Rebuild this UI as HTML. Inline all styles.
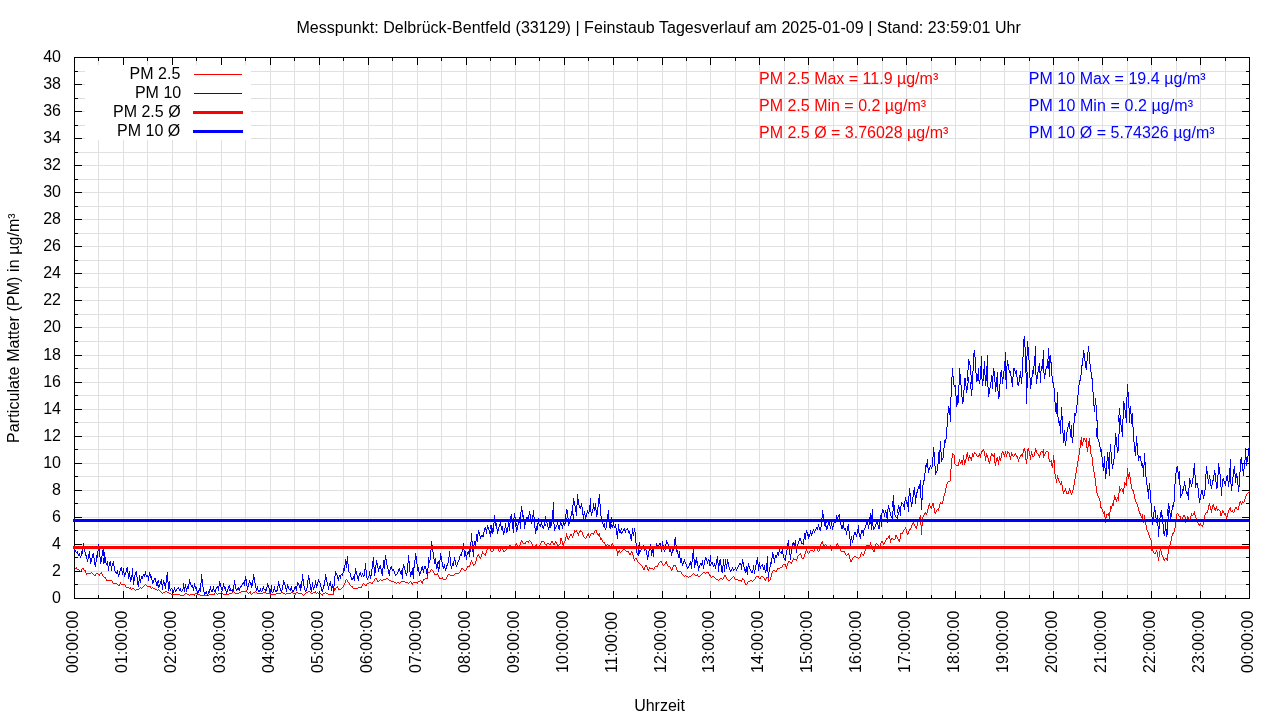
<!DOCTYPE html>
<html><head><meta charset="utf-8"><title>Feinstaub Tagesverlauf</title>
<style>html,body{margin:0;padding:0;background:#fff;width:1280px;height:720px;overflow:hidden}
text{font-family:"Liberation Sans",sans-serif}</style></head>
<body>
<svg width="1280" height="720" viewBox="0 0 1280 720" style="position:absolute;left:0;top:0;will-change:transform">
<rect width="1280" height="720" fill="#fff"/>
<path d="M98.5 57V599M123.5 57V599M147.5 57V599M172.5 57V599M196.5 57V599M221.5 57V599M245.5 57V599M270.5 57V599M294.5 57V599M319.5 57V599M343.5 57V599M368.5 57V599M392.5 57V599M417.5 57V599M441.5 57V599M466.5 57V599M490.5 57V599M515.5 57V599M539.5 57V599M564.5 57V599M588.5 57V599M613.5 57V599M637.5 57V599M662.5 57V599M686.5 57V599M710.5 57V599M735.5 57V599M759.5 57V599M784.5 57V599M808.5 57V599M833.5 57V599M857.5 57V599M882.5 57V599M906.5 57V599M931.5 57V599M955.5 57V599M980.5 57V599M1004.5 57V599M1029.5 57V599M1053.5 57V599M1078.5 57V599M1102.5 57V599M1127.5 57V599M1151.5 57V599M1176.5 57V599M1200.5 57V599M1225.5 57V599M74 584.5H1250M74 571.5H1250M74 557.5H1250M74 544.5H1250M74 530.5H1250M74 517.5H1250M74 503.5H1250M74 490.5H1250M74 476.5H1250M74 463.5H1250M74 449.5H1250M74 436.5H1250M74 422.5H1250M74 409.5H1250M74 395.5H1250M74 382.5H1250M74 368.5H1250M74 355.5H1250M74 341.5H1250M74 327.5H1250M74 314.5H1250M74 300.5H1250M74 287.5H1250M74 273.5H1250M74 260.5H1250M74 246.5H1250M74 233.5H1250M74 219.5H1250M74 206.5H1250M74 192.5H1250M74 179.5H1250M74 165.5H1250M74 152.5H1250M74 138.5H1250M74 125.5H1250M74 111.5H1250M74 98.5H1250M74 84.5H1250M74 71.5H1250" stroke="#e0e0e0" stroke-width="1" fill="none" shape-rendering="crispEdges"/>
<path d="M74.5 599v-8M74.5 57v8M98.5 599v-4M98.5 57v4M123.5 599v-8M123.5 57v8M147.5 599v-4M147.5 57v4M172.5 599v-8M172.5 57v8M196.5 599v-4M196.5 57v4M221.5 599v-8M221.5 57v8M245.5 599v-4M245.5 57v4M270.5 599v-8M270.5 57v8M294.5 599v-4M294.5 57v4M319.5 599v-8M319.5 57v8M343.5 599v-4M343.5 57v4M368.5 599v-8M368.5 57v8M392.5 599v-4M392.5 57v4M417.5 599v-8M417.5 57v8M441.5 599v-4M441.5 57v4M466.5 599v-8M466.5 57v8M490.5 599v-4M490.5 57v4M515.5 599v-8M515.5 57v8M539.5 599v-4M539.5 57v4M564.5 599v-8M564.5 57v8M588.5 599v-4M588.5 57v4M613.5 599v-8M613.5 57v8M637.5 599v-4M637.5 57v4M662.5 599v-8M662.5 57v8M686.5 599v-4M686.5 57v4M710.5 599v-8M710.5 57v8M735.5 599v-4M735.5 57v4M759.5 599v-8M759.5 57v8M784.5 599v-4M784.5 57v4M808.5 599v-8M808.5 57v8M833.5 599v-4M833.5 57v4M857.5 599v-8M857.5 57v8M882.5 599v-4M882.5 57v4M906.5 599v-8M906.5 57v8M931.5 599v-4M931.5 57v4M955.5 599v-8M955.5 57v8M980.5 599v-4M980.5 57v4M1004.5 599v-8M1004.5 57v8M1029.5 599v-4M1029.5 57v4M1053.5 599v-8M1053.5 57v8M1078.5 599v-4M1078.5 57v4M1102.5 599v-8M1102.5 57v8M1127.5 599v-4M1127.5 57v4M1151.5 599v-8M1151.5 57v8M1176.5 599v-4M1176.5 57v4M1200.5 599v-8M1200.5 57v8M1225.5 599v-4M1225.5 57v4M1249.5 599v-8M1249.5 57v8M74 598.5h8M1250 598.5h-8M74 584.5h4M1250 584.5h-4M74 571.5h8M1250 571.5h-8M74 557.5h4M1250 557.5h-4M74 544.5h8M1250 544.5h-8M74 530.5h4M1250 530.5h-4M74 517.5h8M1250 517.5h-8M74 503.5h4M1250 503.5h-4M74 490.5h8M1250 490.5h-8M74 476.5h4M1250 476.5h-4M74 463.5h8M1250 463.5h-8M74 449.5h4M1250 449.5h-4M74 436.5h8M1250 436.5h-8M74 422.5h4M1250 422.5h-4M74 409.5h8M1250 409.5h-8M74 395.5h4M1250 395.5h-4M74 382.5h8M1250 382.5h-8M74 368.5h4M1250 368.5h-4M74 355.5h8M1250 355.5h-8M74 341.5h4M1250 341.5h-4M74 327.5h8M1250 327.5h-8M74 314.5h4M1250 314.5h-4M74 300.5h8M1250 300.5h-8M74 287.5h4M1250 287.5h-4M74 273.5h8M1250 273.5h-8M74 260.5h4M1250 260.5h-4M74 246.5h8M1250 246.5h-8M74 233.5h4M1250 233.5h-4M74 219.5h8M1250 219.5h-8M74 206.5h4M1250 206.5h-4M74 192.5h8M1250 192.5h-8M74 179.5h4M1250 179.5h-4M74 165.5h8M1250 165.5h-8M74 152.5h4M1250 152.5h-4M74 138.5h8M1250 138.5h-8M74 125.5h4M1250 125.5h-4M74 111.5h8M1250 111.5h-8M74 98.5h4M1250 98.5h-4M74 84.5h8M1250 84.5h-8M74 71.5h4M1250 71.5h-4M74 57.5h8M1250 57.5h-8" stroke="#000" stroke-width="1" fill="none" shape-rendering="crispEdges"/>
<rect x="74.5" y="57.5" width="1175" height="541" fill="none" stroke="#000" stroke-width="1" shape-rendering="crispEdges"/>
<rect x="85" y="65" width="166" height="75" fill="#fff"/>
<path fill="#ff0000" shape-rendering="crispEdges" d="M75 568h1v1h-1zM76 567h1v2h-1zM77 569h1v1h-1zM78 569h1v1h-1zM79 570h1v1h-1zM80 571h1v1h-1zM81 569h1v2h-1zM82 568h1v1h-1zM83 568h1v2h-1zM84 570h1v1h-1zM85 570h1v3h-1zM86 573h1v2h-1zM87 573h1v1h-1zM88 573h1v1h-1zM89 573h1v1h-1zM90 573h1v1h-1zM91 572h1v1h-1zM92 573h1v1h-1zM93 574h1v1h-1zM94 575h1v1h-1zM95 574h1v2h-1zM96 573h1v1h-1zM97 573h1v1h-1zM98 574h1v1h-1zM99 574h1v2h-1zM100 573h1v1h-1zM101 572h1v2h-1zM102 574h1v2h-1zM103 576h1v1h-1zM104 577h1v1h-1zM105 577h1v2h-1zM106 579h1v2h-1zM107 580h1v1h-1zM108 580h1v1h-1zM109 580h1v1h-1zM110 580h1v1h-1zM111 580h1v1h-1zM112 581h1v2h-1zM113 583h1v1h-1zM114 583h1v1h-1zM115 583h1v1h-1zM116 583h1v1h-1zM117 584h1v1h-1zM118 585h1v1h-1zM119 584h1v2h-1zM120 582h1v2h-1zM121 584h1v1h-1zM122 584h1v1h-1zM123 584h1v1h-1zM124 584h1v1h-1zM125 585h1v2h-1zM126 587h1v1h-1zM127 587h1v1h-1zM128 587h1v1h-1zM129 588h1v1h-1zM130 587h1v2h-1zM131 589h1v1h-1zM132 588h1v1h-1zM133 588h1v1h-1zM134 589h1v1h-1zM135 590h1v1h-1zM136 589h1v1h-1zM137 589h1v1h-1zM138 589h1v1h-1zM139 588h1v1h-1zM140 587h1v1h-1zM141 588h1v1h-1zM142 587h1v1h-1zM143 586h1v1h-1zM144 585h1v1h-1zM145 584h1v1h-1zM146 585h1v1h-1zM147 586h1v1h-1zM148 586h1v1h-1zM149 586h1v1h-1zM150 586h1v2h-1zM151 588h1v1h-1zM152 587h1v1h-1zM153 588h1v1h-1zM154 588h1v1h-1zM155 589h1v1h-1zM156 589h1v1h-1zM157 590h1v1h-1zM158 589h1v1h-1zM159 590h1v1h-1zM160 591h1v1h-1zM161 592h1v1h-1zM162 593h1v1h-1zM163 592h1v1h-1zM164 592h1v1h-1zM165 591h1v1h-1zM166 591h1v1h-1zM167 592h1v1h-1zM168 592h1v1h-1zM169 593h1v1h-1zM170 593h1v1h-1zM171 594h1v1h-1zM172 594h1v1h-1zM173 594h1v1h-1zM174 594h1v1h-1zM175 594h1v1h-1zM176 594h1v1h-1zM177 594h1v1h-1zM178 594h1v1h-1zM179 594h1v1h-1zM180 595h1v1h-1zM181 595h1v1h-1zM182 595h1v1h-1zM183 595h1v1h-1zM184 594h1v1h-1zM185 593h1v1h-1zM186 593h1v1h-1zM187 594h1v1h-1zM188 594h1v1h-1zM189 595h1v1h-1zM190 594h1v1h-1zM191 594h1v1h-1zM192 594h1v1h-1zM193 594h1v1h-1zM194 594h1v2h-1zM195 593h1v1h-1zM196 593h1v1h-1zM197 594h1v1h-1zM198 594h1v1h-1zM199 594h1v1h-1zM200 595h1v1h-1zM201 595h1v1h-1zM202 595h1v1h-1zM203 595h1v1h-1zM204 595h1v1h-1zM205 595h1v1h-1zM206 595h1v1h-1zM207 595h1v1h-1zM208 595h1v1h-1zM209 594h1v1h-1zM210 594h1v1h-1zM211 594h1v1h-1zM212 594h1v1h-1zM213 594h1v1h-1zM214 593h1v2h-1zM215 592h1v1h-1zM216 593h1v1h-1zM217 594h1v1h-1zM218 593h1v1h-1zM219 593h1v1h-1zM220 593h1v1h-1zM221 592h1v1h-1zM222 593h1v1h-1zM223 594h1v1h-1zM224 594h1v1h-1zM225 594h1v1h-1zM226 594h1v1h-1zM227 594h1v1h-1zM228 594h1v1h-1zM229 593h1v1h-1zM230 593h1v1h-1zM231 593h1v1h-1zM232 592h1v1h-1zM233 591h1v1h-1zM234 592h1v1h-1zM235 593h1v1h-1zM236 593h1v1h-1zM237 593h1v1h-1zM238 593h1v1h-1zM239 592h1v1h-1zM240 592h1v1h-1zM241 591h1v1h-1zM242 591h1v1h-1zM243 591h1v1h-1zM244 591h1v1h-1zM245 591h1v1h-1zM246 590h1v2h-1zM247 592h1v1h-1zM248 593h1v1h-1zM249 592h1v1h-1zM250 591h1v3h-1zM251 594h1v1h-1zM252 593h1v1h-1zM253 592h1v1h-1zM254 592h1v1h-1zM255 591h1v1h-1zM256 592h1v1h-1zM257 593h1v1h-1zM258 593h1v1h-1zM259 593h1v1h-1zM260 593h1v1h-1zM261 593h1v1h-1zM262 593h1v1h-1zM263 592h1v1h-1zM264 592h1v1h-1zM265 591h1v2h-1zM266 593h1v1h-1zM267 593h1v1h-1zM268 593h1v1h-1zM269 592h1v2h-1zM270 594h1v1h-1zM271 594h1v1h-1zM272 594h1v1h-1zM273 594h1v1h-1zM274 594h1v1h-1zM275 594h1v1h-1zM276 593h1v1h-1zM277 593h1v1h-1zM278 593h1v1h-1zM279 593h1v1h-1zM280 593h1v1h-1zM281 592h1v1h-1zM282 592h1v1h-1zM283 593h1v1h-1zM284 593h1v1h-1zM285 594h1v1h-1zM286 593h1v1h-1zM287 593h1v1h-1zM288 593h1v1h-1zM289 593h1v1h-1zM290 593h1v1h-1zM291 592h1v1h-1zM292 592h1v1h-1zM293 593h1v1h-1zM294 593h1v1h-1zM295 593h1v2h-1zM296 592h1v1h-1zM297 592h1v1h-1zM298 593h1v1h-1zM299 593h1v1h-1zM300 593h1v1h-1zM301 593h1v1h-1zM302 594h1v1h-1zM303 595h1v1h-1zM304 594h1v1h-1zM305 593h1v1h-1zM306 592h1v1h-1zM307 592h1v1h-1zM308 591h1v1h-1zM309 591h1v1h-1zM310 592h1v1h-1zM311 593h1v1h-1zM312 593h1v1h-1zM313 592h1v1h-1zM314 592h1v1h-1zM315 591h1v2h-1zM316 593h1v1h-1zM317 592h1v1h-1zM318 593h1v1h-1zM319 593h1v1h-1zM320 593h1v1h-1zM321 594h1v1h-1zM322 594h1v2h-1zM323 593h1v1h-1zM324 593h1v1h-1zM325 592h1v1h-1zM326 593h1v1h-1zM327 593h1v1h-1zM328 594h1v1h-1zM329 594h1v1h-1zM330 594h1v1h-1zM331 594h1v1h-1zM332 594h1v1h-1zM333 591h1v4h-1zM334 588h1v3h-1zM335 588h1v2h-1zM336 587h1v1h-1zM337 586h1v2h-1zM338 588h1v2h-1zM339 589h1v1h-1zM340 589h1v1h-1zM341 588h1v1h-1zM342 587h1v1h-1zM343 585h1v2h-1zM344 583h1v2h-1zM345 580h1v3h-1zM346 579h1v1h-1zM347 580h1v2h-1zM348 582h1v1h-1zM349 583h1v2h-1zM350 585h1v1h-1zM351 586h1v1h-1zM352 586h1v2h-1zM353 588h1v1h-1zM354 588h1v1h-1zM355 588h1v1h-1zM356 588h1v1h-1zM357 588h1v1h-1zM358 587h1v1h-1zM359 587h1v1h-1zM360 587h1v1h-1zM361 586h1v2h-1zM362 584h1v2h-1zM363 583h1v1h-1zM364 584h1v1h-1zM365 585h1v1h-1zM366 584h1v2h-1zM367 583h1v1h-1zM368 583h1v1h-1zM369 582h1v1h-1zM370 582h1v1h-1zM371 583h1v1h-1zM372 582h1v2h-1zM373 581h1v1h-1zM374 579h1v2h-1zM375 578h1v1h-1zM376 578h1v2h-1zM377 580h1v2h-1zM378 581h1v1h-1zM379 580h1v1h-1zM380 579h1v1h-1zM381 580h1v1h-1zM382 580h1v1h-1zM383 579h1v1h-1zM384 579h1v1h-1zM385 579h1v1h-1zM386 578h1v1h-1zM387 578h1v1h-1zM388 579h1v1h-1zM389 580h1v1h-1zM390 580h1v1h-1zM391 581h1v1h-1zM392 581h1v1h-1zM393 581h1v1h-1zM394 582h1v1h-1zM395 582h1v1h-1zM396 583h1v1h-1zM397 582h1v1h-1zM398 582h1v1h-1zM399 583h1v1h-1zM400 582h1v1h-1zM401 581h1v1h-1zM402 581h1v1h-1zM403 581h1v1h-1zM404 581h1v1h-1zM405 582h1v1h-1zM406 582h1v1h-1zM407 582h1v1h-1zM408 583h1v1h-1zM409 582h1v1h-1zM410 581h1v1h-1zM411 582h1v2h-1zM412 583h1v2h-1zM413 582h1v1h-1zM414 582h1v1h-1zM415 582h1v1h-1zM416 582h1v1h-1zM417 582h1v2h-1zM418 581h1v1h-1zM419 581h1v1h-1zM420 580h1v1h-1zM421 581h1v2h-1zM422 581h1v3h-1zM423 579h1v2h-1zM424 579h1v1h-1zM425 578h1v1h-1zM426 578h1v1h-1zM427 572h1v7h-1zM428 572h1v1h-1zM429 572h1v1h-1zM430 570h1v2h-1zM431 569h1v1h-1zM432 570h1v1h-1zM433 571h1v2h-1zM434 573h1v2h-1zM435 574h1v1h-1zM436 574h1v1h-1zM437 573h1v2h-1zM438 575h1v2h-1zM439 577h1v2h-1zM440 578h1v1h-1zM441 578h1v1h-1zM442 577h1v2h-1zM443 579h1v1h-1zM444 579h1v1h-1zM445 579h1v1h-1zM446 577h1v2h-1zM447 575h1v2h-1zM448 574h1v1h-1zM449 574h1v1h-1zM450 575h1v1h-1zM451 575h1v1h-1zM452 575h1v1h-1zM453 575h1v1h-1zM454 574h1v1h-1zM455 573h1v1h-1zM456 573h1v1h-1zM457 573h1v1h-1zM458 573h1v1h-1zM459 572h1v1h-1zM460 570h1v2h-1zM461 568h1v2h-1zM462 568h1v1h-1zM463 569h1v1h-1zM464 570h1v1h-1zM465 570h1v1h-1zM466 568h1v2h-1zM467 566h1v2h-1zM468 566h1v1h-1zM469 565h1v2h-1zM470 562h1v3h-1zM471 560h1v2h-1zM472 562h1v2h-1zM473 564h1v2h-1zM474 564h1v1h-1zM475 561h1v3h-1zM476 557h1v4h-1zM477 555h1v2h-1zM478 554h1v2h-1zM479 556h1v2h-1zM480 557h1v2h-1zM481 554h1v3h-1zM482 551h1v3h-1zM483 553h1v1h-1zM484 554h1v1h-1zM485 553h1v3h-1zM486 550h1v3h-1zM487 548h1v2h-1zM488 547h1v1h-1zM489 548h1v1h-1zM490 549h1v2h-1zM491 551h1v1h-1zM492 551h1v1h-1zM493 549h1v2h-1zM494 547h1v2h-1zM495 546h1v1h-1zM496 547h1v1h-1zM497 548h1v1h-1zM498 549h1v2h-1zM499 551h1v1h-1zM500 549h1v2h-1zM501 548h1v1h-1zM502 548h1v2h-1zM503 550h1v2h-1zM504 551h1v1h-1zM505 550h1v1h-1zM506 548h1v2h-1zM507 547h1v1h-1zM508 546h1v1h-1zM509 545h1v1h-1zM510 545h1v1h-1zM511 546h1v1h-1zM512 546h1v1h-1zM513 547h1v1h-1zM514 546h1v1h-1zM515 544h1v2h-1zM516 543h1v2h-1zM517 545h1v2h-1zM518 546h1v1h-1zM519 545h1v2h-1zM520 542h1v3h-1zM521 540h1v2h-1zM522 541h1v2h-1zM523 543h1v1h-1zM524 543h1v1h-1zM525 542h1v2h-1zM526 541h1v1h-1zM527 541h1v1h-1zM528 541h1v2h-1zM529 540h1v1h-1zM530 541h1v1h-1zM531 542h1v2h-1zM532 544h1v2h-1zM533 546h1v1h-1zM534 546h1v1h-1zM535 545h1v1h-1zM536 544h1v2h-1zM537 546h1v1h-1zM538 546h1v1h-1zM539 545h1v1h-1zM540 543h1v2h-1zM541 541h1v2h-1zM542 541h1v1h-1zM543 541h1v1h-1zM544 542h1v2h-1zM545 544h1v1h-1zM546 544h1v2h-1zM547 543h1v1h-1zM548 543h1v1h-1zM549 544h1v1h-1zM550 543h1v2h-1zM551 541h1v2h-1zM552 541h1v2h-1zM553 543h1v2h-1zM554 543h1v2h-1zM555 541h1v2h-1zM556 542h1v2h-1zM557 544h1v2h-1zM558 545h1v1h-1zM559 544h1v1h-1zM560 538h1v6h-1zM561 538h1v3h-1zM562 541h1v4h-1zM563 543h1v3h-1zM564 541h1v2h-1zM565 537h1v4h-1zM566 533h1v4h-1zM567 536h1v3h-1zM568 538h1v2h-1zM569 536h1v2h-1zM570 534h1v2h-1zM571 534h1v2h-1zM572 536h1v2h-1zM573 533h1v3h-1zM574 530h1v3h-1zM575 531h1v1h-1zM576 530h1v2h-1zM577 532h1v2h-1zM578 533h1v3h-1zM579 531h1v2h-1zM580 530h1v2h-1zM581 531h1v1h-1zM582 532h1v3h-1zM583 535h1v2h-1zM584 537h1v1h-1zM585 538h1v1h-1zM586 536h1v2h-1zM587 534h1v2h-1zM588 533h1v3h-1zM589 536h1v2h-1zM590 534h1v2h-1zM591 533h1v1h-1zM592 533h1v1h-1zM593 533h1v2h-1zM594 531h1v2h-1zM595 530h1v1h-1zM596 530h1v3h-1zM597 533h1v2h-1zM598 534h1v2h-1zM599 533h1v4h-1zM600 537h1v3h-1zM601 538h1v2h-1zM602 540h1v2h-1zM603 542h1v1h-1zM604 542h1v2h-1zM605 544h1v2h-1zM606 545h1v1h-1zM607 544h1v1h-1zM608 545h1v1h-1zM609 545h1v1h-1zM610 546h1v1h-1zM611 544h1v2h-1zM612 543h1v2h-1zM613 545h1v1h-1zM614 546h1v1h-1zM615 547h1v1h-1zM616 546h1v5h-1zM617 551h1v5h-1zM618 551h1v2h-1zM619 550h1v2h-1zM620 552h1v1h-1zM621 551h1v1h-1zM622 550h1v1h-1zM623 549h1v1h-1zM624 549h1v1h-1zM625 550h1v1h-1zM626 551h1v1h-1zM627 551h1v1h-1zM628 551h1v2h-1zM629 553h1v2h-1zM630 553h1v2h-1zM631 551h1v2h-1zM632 552h1v3h-1zM633 555h1v4h-1zM634 559h1v2h-1zM635 558h1v1h-1zM636 558h1v2h-1zM637 560h1v2h-1zM638 562h1v1h-1zM639 563h1v1h-1zM640 564h1v1h-1zM641 565h1v1h-1zM642 566h1v2h-1zM643 568h1v2h-1zM644 567h1v3h-1zM645 565h1v2h-1zM646 565h1v2h-1zM647 567h1v3h-1zM648 569h1v2h-1zM649 567h1v2h-1zM650 568h1v1h-1zM651 568h1v1h-1zM652 568h1v1h-1zM653 569h1v1h-1zM654 567h1v2h-1zM655 566h1v1h-1zM656 566h1v1h-1zM657 565h1v2h-1zM658 563h1v2h-1zM659 562h1v1h-1zM660 561h1v1h-1zM661 561h1v2h-1zM662 563h1v2h-1zM663 565h1v1h-1zM664 564h1v1h-1zM665 562h1v2h-1zM666 561h1v3h-1zM667 564h1v2h-1zM668 566h1v1h-1zM669 566h1v1h-1zM670 567h1v2h-1zM671 569h1v2h-1zM672 567h1v3h-1zM673 565h1v2h-1zM674 565h1v1h-1zM675 565h1v2h-1zM676 567h1v3h-1zM677 570h1v2h-1zM678 571h1v1h-1zM679 571h1v1h-1zM680 571h1v1h-1zM681 572h1v2h-1zM682 574h1v1h-1zM683 575h1v1h-1zM684 576h1v1h-1zM685 575h1v1h-1zM686 576h1v1h-1zM687 576h1v1h-1zM688 577h1v1h-1zM689 576h1v1h-1zM690 576h1v1h-1zM691 575h1v1h-1zM692 574h1v1h-1zM693 573h1v1h-1zM694 574h1v1h-1zM695 575h1v1h-1zM696 575h1v1h-1zM697 574h1v2h-1zM698 576h1v1h-1zM699 576h1v1h-1zM700 575h1v1h-1zM701 574h1v1h-1zM702 573h1v1h-1zM703 572h1v1h-1zM704 572h1v1h-1zM705 573h1v1h-1zM706 572h1v1h-1zM707 572h1v1h-1zM708 572h1v2h-1zM709 574h1v2h-1zM710 575h1v2h-1zM711 577h1v1h-1zM712 576h1v1h-1zM713 576h1v1h-1zM714 577h1v1h-1zM715 578h1v1h-1zM716 579h1v1h-1zM717 579h1v1h-1zM718 580h1v1h-1zM719 579h1v1h-1zM720 578h1v1h-1zM721 578h1v1h-1zM722 579h1v1h-1zM723 577h1v2h-1zM724 575h1v2h-1zM725 575h1v2h-1zM726 577h1v2h-1zM727 579h1v1h-1zM728 580h1v1h-1zM729 580h1v1h-1zM730 579h1v1h-1zM731 578h1v1h-1zM732 577h1v1h-1zM733 576h1v1h-1zM734 577h1v2h-1zM735 579h1v1h-1zM736 579h1v1h-1zM737 579h1v1h-1zM738 580h1v1h-1zM739 580h1v1h-1zM740 580h1v1h-1zM741 580h1v2h-1zM742 578h1v2h-1zM743 579h1v1h-1zM744 580h1v3h-1zM745 583h1v2h-1zM746 584h1v1h-1zM747 582h1v2h-1zM748 581h1v1h-1zM749 581h1v1h-1zM750 580h1v1h-1zM751 580h1v1h-1zM752 581h1v1h-1zM753 580h1v1h-1zM754 579h1v1h-1zM755 577h1v2h-1zM756 576h1v1h-1zM757 576h1v1h-1zM758 576h1v2h-1zM759 578h1v1h-1zM760 577h1v2h-1zM761 576h1v1h-1zM762 576h1v1h-1zM763 577h1v1h-1zM764 578h1v2h-1zM765 579h1v2h-1zM766 577h1v2h-1zM767 577h1v1h-1zM768 576h1v6h-1zM769 580h1v1h-1zM770 577h1v3h-1zM771 573h1v4h-1zM772 571h1v2h-1zM773 570h1v1h-1zM774 570h1v1h-1zM775 571h1v1h-1zM776 570h1v2h-1zM777 568h1v2h-1zM778 568h1v1h-1zM779 568h1v1h-1zM780 567h1v1h-1zM781 567h1v1h-1zM782 565h1v2h-1zM783 564h1v1h-1zM784 564h1v1h-1zM785 564h1v3h-1zM786 566h1v3h-1zM787 563h1v3h-1zM788 561h1v2h-1zM789 561h1v1h-1zM790 562h1v1h-1zM791 562h1v2h-1zM792 560h1v2h-1zM793 558h1v2h-1zM794 559h1v1h-1zM795 559h1v1h-1zM796 559h1v2h-1zM797 556h1v3h-1zM798 555h1v1h-1zM799 554h1v1h-1zM800 553h1v2h-1zM801 555h1v3h-1zM802 558h1v1h-1zM803 557h1v2h-1zM804 554h1v3h-1zM805 551h1v3h-1zM806 549h1v2h-1zM807 551h1v2h-1zM808 553h1v1h-1zM809 551h1v2h-1zM810 550h1v1h-1zM811 550h1v1h-1zM812 550h1v1h-1zM813 551h1v1h-1zM814 549h1v2h-1zM815 548h1v1h-1zM816 548h1v1h-1zM817 549h1v2h-1zM818 551h1v1h-1zM819 548h1v3h-1zM820 544h1v4h-1zM821 542h1v2h-1zM822 541h1v3h-1zM823 544h1v2h-1zM824 545h1v1h-1zM825 544h1v1h-1zM826 545h1v1h-1zM827 546h1v2h-1zM828 548h1v1h-1zM829 546h1v2h-1zM830 545h1v3h-1zM831 548h1v3h-1zM832 547h1v2h-1zM833 546h1v1h-1zM834 546h1v1h-1zM835 546h1v1h-1zM836 544h1v2h-1zM837 543h1v2h-1zM838 545h1v2h-1zM839 547h1v2h-1zM840 549h1v2h-1zM841 551h1v1h-1zM842 551h1v1h-1zM843 551h1v1h-1zM844 551h1v2h-1zM845 553h1v2h-1zM846 555h1v1h-1zM847 554h1v1h-1zM848 553h1v2h-1zM849 555h1v4h-1zM850 559h1v3h-1zM851 560h1v2h-1zM852 558h1v2h-1zM853 557h1v1h-1zM854 556h1v1h-1zM855 556h1v1h-1zM856 557h1v1h-1zM857 557h1v1h-1zM858 558h1v1h-1zM859 557h1v1h-1zM860 554h1v3h-1zM861 552h1v2h-1zM862 554h1v1h-1zM863 554h1v2h-1zM864 551h1v3h-1zM865 547h1v4h-1zM866 545h1v2h-1zM867 545h1v1h-1zM868 545h1v1h-1zM869 545h1v2h-1zM870 542h1v3h-1zM871 545h1v3h-1zM872 548h1v2h-1zM873 550h1v2h-1zM874 548h1v4h-1zM875 544h1v4h-1zM876 543h1v1h-1zM877 544h1v1h-1zM878 545h1v1h-1zM879 546h1v1h-1zM880 543h1v3h-1zM881 541h1v2h-1zM882 541h1v2h-1zM883 543h1v2h-1zM884 542h1v2h-1zM885 540h1v2h-1zM886 538h1v2h-1zM887 538h1v1h-1zM888 536h1v2h-1zM889 535h1v4h-1zM890 539h1v4h-1zM891 538h1v2h-1zM892 538h1v1h-1zM893 539h1v1h-1zM894 539h1v1h-1zM895 535h1v4h-1zM896 535h1v2h-1zM897 537h1v2h-1zM898 539h1v2h-1zM899 539h1v3h-1zM900 533h1v6h-1zM901 533h1v1h-1zM902 532h1v2h-1zM903 530h1v2h-1zM904 529h1v1h-1zM905 527h1v2h-1zM906 529h1v4h-1zM907 533h1v2h-1zM908 531h1v3h-1zM909 529h1v2h-1zM910 528h1v2h-1zM911 525h1v3h-1zM912 523h1v2h-1zM913 522h1v2h-1zM914 524h1v2h-1zM915 526h1v2h-1zM916 526h1v3h-1zM917 522h1v4h-1zM918 520h1v2h-1zM919 517h1v3h-1zM920 515h1v10h-1zM921 525h1v10h-1zM922 517h1v9h-1zM923 515h1v2h-1zM924 513h1v2h-1zM925 512h1v2h-1zM926 513h1v2h-1zM927 509h1v4h-1zM928 505h1v4h-1zM929 503h1v3h-1zM930 506h1v2h-1zM931 506h1v3h-1zM932 503h1v3h-1zM933 503h1v5h-1zM934 508h1v5h-1zM935 512h1v2h-1zM936 510h1v2h-1zM937 509h1v1h-1zM938 508h1v3h-1zM939 504h1v4h-1zM940 502h1v2h-1zM941 503h1v1h-1zM942 501h1v3h-1zM943 496h1v5h-1zM944 493h1v3h-1zM945 488h1v5h-1zM946 484h1v4h-1zM947 482h1v2h-1zM948 481h1v1h-1zM949 481h1v1h-1zM950 469h1v12h-1zM951 458h1v11h-1zM952 453h1v5h-1zM953 454h1v1h-1zM954 455h1v9h-1zM955 464h1v1h-1zM956 465h1v1h-1zM957 465h1v1h-1zM958 462h1v4h-1zM959 459h1v3h-1zM960 462h1v2h-1zM961 460h1v3h-1zM962 460h1v5h-1zM963 455h1v5h-1zM964 460h1v5h-1zM965 459h1v4h-1zM966 454h1v5h-1zM967 452h1v5h-1zM968 457h1v4h-1zM969 455h1v3h-1zM970 457h1v2h-1zM971 457h1v4h-1zM972 453h1v4h-1zM973 454h1v3h-1zM974 452h1v2h-1zM975 453h1v1h-1zM976 454h1v2h-1zM977 456h1v1h-1zM978 455h1v2h-1zM979 453h1v3h-1zM980 454h1v4h-1zM981 451h1v3h-1zM982 450h1v2h-1zM983 449h1v2h-1zM984 451h1v5h-1zM985 456h1v5h-1zM986 453h1v4h-1zM987 455h1v3h-1zM988 458h1v4h-1zM989 461h1v3h-1zM990 456h1v5h-1zM991 453h1v3h-1zM992 454h1v2h-1zM993 455h1v2h-1zM994 453h1v10h-1zM995 462h1v4h-1zM996 458h1v4h-1zM997 457h1v4h-1zM998 460h1v5h-1zM999 456h1v4h-1zM1000 458h1v3h-1zM1001 453h1v5h-1zM1002 451h1v2h-1zM1003 452h1v3h-1zM1004 454h1v3h-1zM1005 451h1v3h-1zM1006 454h1v3h-1zM1007 451h1v3h-1zM1008 452h1v1h-1zM1009 453h1v4h-1zM1010 456h1v4h-1zM1011 452h1v4h-1zM1012 454h1v2h-1zM1013 456h1v1h-1zM1014 454h1v2h-1zM1015 453h1v2h-1zM1016 455h1v2h-1zM1017 456h1v3h-1zM1018 459h1v3h-1zM1019 457h1v2h-1zM1020 455h1v2h-1zM1021 454h1v2h-1zM1022 453h1v4h-1zM1023 449h1v4h-1zM1024 448h1v3h-1zM1025 451h1v9h-1zM1026 459h1v5h-1zM1027 449h1v10h-1zM1028 448h1v3h-1zM1029 451h1v5h-1zM1030 455h1v5h-1zM1031 451h1v4h-1zM1032 454h1v3h-1zM1033 456h1v1h-1zM1034 452h1v4h-1zM1035 448h1v4h-1zM1036 450h1v3h-1zM1037 453h1v1h-1zM1038 454h1v2h-1zM1039 455h1v3h-1zM1040 452h1v3h-1zM1041 451h1v1h-1zM1042 451h1v2h-1zM1043 449h1v9h-1zM1044 454h1v2h-1zM1045 452h1v2h-1zM1046 451h1v1h-1zM1047 451h1v1h-1zM1048 452h1v7h-1zM1049 459h1v3h-1zM1050 461h1v1h-1zM1051 460h1v6h-1zM1052 463h1v5h-1zM1053 455h1v8h-1zM1054 460h1v14h-1zM1055 474h1v5h-1zM1056 479h1v4h-1zM1057 475h1v4h-1zM1058 478h1v3h-1zM1059 481h1v2h-1zM1060 483h1v2h-1zM1061 481h1v4h-1zM1062 485h1v6h-1zM1063 491h1v3h-1zM1064 490h1v2h-1zM1065 488h1v3h-1zM1066 491h1v3h-1zM1067 493h1v1h-1zM1068 491h1v3h-1zM1069 488h1v3h-1zM1070 490h1v3h-1zM1071 493h1v2h-1zM1072 490h1v3h-1zM1073 485h1v5h-1zM1074 479h1v6h-1zM1075 473h1v6h-1zM1076 467h1v6h-1zM1077 461h1v6h-1zM1078 455h1v6h-1zM1079 448h1v7h-1zM1080 440h1v8h-1zM1081 437h1v8h-1zM1082 442h1v4h-1zM1083 438h1v4h-1zM1084 438h1v2h-1zM1085 440h1v2h-1zM1086 438h1v10h-1zM1087 447h1v5h-1zM1088 441h1v6h-1zM1089 438h1v8h-1zM1090 445h1v9h-1zM1091 454h1v3h-1zM1092 457h1v9h-1zM1093 466h1v6h-1zM1094 472h1v6h-1zM1095 478h1v8h-1zM1096 486h1v7h-1zM1097 493h1v3h-1zM1098 496h1v2h-1zM1099 498h1v3h-1zM1100 501h1v7h-1zM1101 507h1v2h-1zM1102 509h1v3h-1zM1103 512h1v2h-1zM1104 511h1v6h-1zM1105 517h1v6h-1zM1106 514h1v4h-1zM1107 514h1v1h-1zM1108 513h1v3h-1zM1109 512h1v7h-1zM1110 506h1v6h-1zM1111 506h1v3h-1zM1112 503h1v3h-1zM1113 500h1v6h-1zM1114 495h1v5h-1zM1115 497h1v3h-1zM1116 499h1v3h-1zM1117 497h1v2h-1zM1118 493h1v8h-1zM1119 486h1v7h-1zM1120 489h1v2h-1zM1121 488h1v1h-1zM1122 489h1v3h-1zM1123 488h1v6h-1zM1124 482h1v6h-1zM1125 483h1v2h-1zM1126 477h1v9h-1zM1127 468h1v9h-1zM1128 474h1v5h-1zM1129 472h1v5h-1zM1130 477h1v7h-1zM1131 484h1v5h-1zM1132 489h1v2h-1zM1133 490h1v4h-1zM1134 494h1v5h-1zM1135 499h1v3h-1zM1136 502h1v2h-1zM1137 504h1v3h-1zM1138 507h1v4h-1zM1139 511h1v3h-1zM1140 513h1v3h-1zM1141 516h1v2h-1zM1142 514h1v5h-1zM1143 519h1v4h-1zM1144 515h1v4h-1zM1145 519h1v6h-1zM1146 525h1v5h-1zM1147 530h1v2h-1zM1148 532h1v3h-1zM1149 535h1v3h-1zM1150 538h1v2h-1zM1151 540h1v11h-1zM1152 549h1v2h-1zM1153 551h1v2h-1zM1154 553h1v1h-1zM1155 552h1v2h-1zM1156 550h1v2h-1zM1157 552h1v5h-1zM1158 557h1v4h-1zM1159 551h1v6h-1zM1160 548h1v3h-1zM1161 551h1v4h-1zM1162 555h1v2h-1zM1163 557h1v3h-1zM1164 559h1v2h-1zM1165 558h1v1h-1zM1166 558h1v2h-1zM1167 554h1v7h-1zM1168 548h1v6h-1zM1169 545h1v3h-1zM1170 541h1v4h-1zM1171 536h1v5h-1zM1172 533h1v3h-1zM1173 532h1v2h-1zM1174 528h1v4h-1zM1175 519h1v9h-1zM1176 514h1v5h-1zM1177 513h1v1h-1zM1178 514h1v2h-1zM1179 516h1v1h-1zM1180 516h1v3h-1zM1181 519h1v3h-1zM1182 517h1v3h-1zM1183 515h1v2h-1zM1184 515h1v2h-1zM1185 517h1v6h-1zM1186 519h1v3h-1zM1187 516h1v3h-1zM1188 517h1v2h-1zM1189 519h1v1h-1zM1190 516h1v3h-1zM1191 513h1v3h-1zM1192 515h1v1h-1zM1193 513h1v2h-1zM1194 511h1v4h-1zM1195 515h1v3h-1zM1196 518h1v2h-1zM1197 520h1v3h-1zM1198 523h1v2h-1zM1199 524h1v2h-1zM1200 523h1v2h-1zM1201 525h1v1h-1zM1202 525h1v2h-1zM1203 520h1v5h-1zM1204 515h1v5h-1zM1205 513h1v2h-1zM1206 512h1v1h-1zM1207 510h1v3h-1zM1208 505h1v5h-1zM1209 503h1v3h-1zM1210 506h1v4h-1zM1211 509h1v4h-1zM1212 505h1v4h-1zM1213 504h1v3h-1zM1214 507h1v3h-1zM1215 508h1v3h-1zM1216 506h1v3h-1zM1217 509h1v2h-1zM1218 509h1v1h-1zM1219 510h1v1h-1zM1220 511h1v5h-1zM1221 513h1v3h-1zM1222 510h1v3h-1zM1223 511h1v2h-1zM1224 513h1v2h-1zM1225 513h1v3h-1zM1226 516h1v3h-1zM1227 513h1v4h-1zM1228 510h1v3h-1zM1229 508h1v2h-1zM1230 507h1v4h-1zM1231 511h1v1h-1zM1232 510h1v2h-1zM1233 512h1v1h-1zM1234 509h1v3h-1zM1235 507h1v2h-1zM1236 507h1v2h-1zM1237 509h1v1h-1zM1238 506h1v4h-1zM1239 502h1v4h-1zM1240 501h1v2h-1zM1241 503h1v2h-1zM1242 501h1v2h-1zM1243 502h1v1h-1zM1244 499h1v3h-1zM1245 496h1v3h-1zM1246 494h1v2h-1zM1247 493h1v1h-1zM1248 492h1v1h-1zM1249 491h1v1h-1z"/>
<path fill="#0000ff" shape-rendering="crispEdges" d="M74 549h1v2h-1zM75 550h1v2h-1zM76 552h1v1h-1zM77 551h1v3h-1zM78 554h1v2h-1zM79 553h1v3h-1zM80 556h1v2h-1zM81 551h1v5h-1zM82 548h1v6h-1zM83 543h1v5h-1zM84 546h1v6h-1zM85 552h1v4h-1zM86 555h1v4h-1zM87 559h1v3h-1zM88 554h1v5h-1zM89 551h1v7h-1zM90 558h1v6h-1zM91 558h1v4h-1zM92 554h1v4h-1zM93 553h1v5h-1zM94 558h1v7h-1zM95 562h1v5h-1zM96 555h1v7h-1zM97 551h1v7h-1zM98 544h1v7h-1zM99 548h1v9h-1zM100 557h1v7h-1zM101 556h1v6h-1zM102 550h1v6h-1zM103 549h1v7h-1zM103 558h1v6h-1zM104 552h1v11h-1zM105 557h1v6h-1zM106 563h1v2h-1zM107 561h1v5h-1zM108 566h1v5h-1zM109 562h1v4h-1zM110 561h1v5h-1zM111 566h1v5h-1zM112 563h1v3h-1zM113 561h1v5h-1zM114 566h1v5h-1zM115 571h1v2h-1zM116 572h1v2h-1zM117 570h1v4h-1zM118 574h1v3h-1zM119 571h1v4h-1zM120 568h1v3h-1zM121 567h1v4h-1zM122 571h1v4h-1zM123 568h1v5h-1zM124 573h1v4h-1zM125 572h1v3h-1zM126 568h1v4h-1zM127 567h1v6h-1zM128 573h1v6h-1zM129 571h1v6h-1zM130 577h1v5h-1zM131 575h1v5h-1zM132 568h1v9h-1zM133 577h1v8h-1zM134 575h1v6h-1zM135 572h1v3h-1zM136 571h1v6h-1zM137 577h1v8h-1zM138 581h1v6h-1zM139 575h1v6h-1zM140 579h1v4h-1zM141 576h1v3h-1zM142 576h1v3h-1zM143 574h1v2h-1zM144 574h1v3h-1zM145 571h1v4h-1zM146 575h1v2h-1zM147 575h1v2h-1zM148 576h1v5h-1zM149 572h1v4h-1zM150 574h1v4h-1zM151 576h1v4h-1zM152 580h1v4h-1zM153 580h1v3h-1zM154 578h1v2h-1zM155 578h1v4h-1zM156 582h1v4h-1zM157 581h1v5h-1zM158 580h1v3h-1zM158 585h1v3h-1zM159 584h1v3h-1zM160 581h1v3h-1zM161 579h1v6h-1zM162 584h1v6h-1zM163 580h1v4h-1zM164 582h1v4h-1zM165 583h1v6h-1zM166 575h1v8h-1zM167 572h1v10h-1zM168 582h1v9h-1zM169 581h1v8h-1zM170 589h1v2h-1zM171 588h1v1h-1zM172 589h1v2h-1zM173 590h1v3h-1zM174 587h1v3h-1zM175 590h1v2h-1zM176 589h1v2h-1zM177 588h1v1h-1zM178 587h1v2h-1zM179 589h1v2h-1zM180 588h1v3h-1zM181 591h1v1h-1zM182 589h1v2h-1zM183 583h1v6h-1zM184 587h1v5h-1zM185 584h1v4h-1zM186 588h1v4h-1zM187 586h1v3h-1zM188 584h1v5h-1zM189 579h1v5h-1zM190 582h1v3h-1zM191 585h1v2h-1zM192 585h1v3h-1zM193 587h1v4h-1zM194 583h1v4h-1zM195 586h1v3h-1zM196 587h1v4h-1zM197 591h1v3h-1zM198 590h1v3h-1zM199 588h1v3h-1zM200 583h1v9h-1zM201 574h1v9h-1zM202 579h1v8h-1zM203 587h1v5h-1zM204 592h1v3h-1zM205 592h1v2h-1zM206 591h1v3h-1zM207 594h1v2h-1zM208 591h1v3h-1zM209 589h1v4h-1zM210 586h1v4h-1zM211 590h1v2h-1zM212 589h1v3h-1zM213 586h1v4h-1zM214 590h1v2h-1zM215 589h1v3h-1zM216 587h1v2h-1zM217 586h1v2h-1zM218 586h1v5h-1zM219 581h1v5h-1zM220 583h1v4h-1zM221 587h1v3h-1zM222 587h1v4h-1zM223 583h1v4h-1zM224 586h1v3h-1zM225 587h1v4h-1zM226 591h1v3h-1zM227 589h1v3h-1zM228 586h1v3h-1zM229 585h1v3h-1zM229 589h1v2h-1zM230 588h1v3h-1zM231 590h1v1h-1zM232 589h1v3h-1zM233 585h1v6h-1zM234 580h1v5h-1zM235 584h1v5h-1zM236 589h1v2h-1zM237 588h1v2h-1zM238 587h1v3h-1zM239 588h1v3h-1zM240 586h1v2h-1zM241 585h1v2h-1zM242 583h1v2h-1zM243 582h1v2h-1zM244 580h1v6h-1zM245 576h1v5h-1zM246 579h1v7h-1zM247 586h1v4h-1zM248 583h1v4h-1zM249 580h1v3h-1zM250 582h1v3h-1zM251 583h1v5h-1zM252 580h1v6h-1zM253 574h1v6h-1zM254 577h1v6h-1zM255 583h1v5h-1zM256 588h1v3h-1zM257 586h1v4h-1zM258 590h1v2h-1zM259 590h1v2h-1zM260 588h1v3h-1zM261 591h1v1h-1zM262 588h1v3h-1zM263 586h1v3h-1zM264 589h1v1h-1zM265 589h1v2h-1zM266 587h1v4h-1zM267 583h1v4h-1zM268 585h1v3h-1zM269 588h1v4h-1zM270 589h1v5h-1zM271 585h1v7h-1zM272 592h1v1h-1zM273 589h1v3h-1zM274 586h1v4h-1zM275 590h1v2h-1zM276 590h1v2h-1zM277 586h1v5h-1zM278 581h1v5h-1zM279 584h1v4h-1zM280 588h1v3h-1zM281 590h1v2h-1zM282 585h1v5h-1zM283 580h1v5h-1zM284 582h1v3h-1zM285 585h1v4h-1zM286 588h1v4h-1zM287 584h1v4h-1zM288 586h1v3h-1zM289 589h1v1h-1zM290 588h1v3h-1zM291 586h1v4h-1zM292 590h1v2h-1zM293 590h1v2h-1zM294 587h1v3h-1zM295 586h1v3h-1zM296 586h1v5h-1zM297 582h1v4h-1zM298 583h1v2h-1zM299 585h1v3h-1zM300 584h1v7h-1zM301 581h1v7h-1zM302 574h1v7h-1zM303 579h1v7h-1zM304 586h1v4h-1zM305 590h1v2h-1zM306 588h1v3h-1zM307 580h1v8h-1zM308 575h1v5h-1zM309 578h1v6h-1zM310 584h1v6h-1zM311 587h1v5h-1zM312 582h1v5h-1zM313 587h1v3h-1zM314 585h1v3h-1zM315 580h1v5h-1zM316 584h1v4h-1zM317 582h1v4h-1zM318 579h1v3h-1zM319 581h1v2h-1zM320 583h1v4h-1zM321 587h1v4h-1zM322 589h1v3h-1zM323 585h1v4h-1zM324 580h1v6h-1zM325 574h1v6h-1zM326 577h1v5h-1zM327 582h1v4h-1zM328 586h1v4h-1zM329 583h1v3h-1zM330 581h1v5h-1zM331 586h1v5h-1zM332 584h1v4h-1zM333 586h1v6h-1zM334 576h1v10h-1zM335 571h1v5h-1zM336 573h1v2h-1zM337 575h1v4h-1zM338 577h1v4h-1zM339 575h1v2h-1zM340 575h1v4h-1zM341 574h1v1h-1zM342 573h1v3h-1zM343 568h1v5h-1zM344 565h1v6h-1zM345 559h1v6h-1zM346 561h1v7h-1zM347 556h1v8h-1zM348 564h1v8h-1zM349 572h1v1h-1zM350 573h1v4h-1zM351 577h1v3h-1zM352 578h1v2h-1zM353 576h1v3h-1zM354 574h1v7h-1zM355 568h1v6h-1zM356 571h1v4h-1zM357 575h1v4h-1zM358 576h1v5h-1zM359 573h1v3h-1zM360 572h1v3h-1zM361 575h1v2h-1zM362 573h1v2h-1zM363 575h1v2h-1zM364 569h1v7h-1zM365 563h1v7h-1zM366 570h1v8h-1zM367 578h1v2h-1zM368 576h1v2h-1zM369 571h1v5h-1zM370 575h1v4h-1zM371 569h1v7h-1zM372 561h1v8h-1zM373 557h1v10h-1zM374 567h1v9h-1zM375 565h1v8h-1zM376 560h1v5h-1zM377 563h1v5h-1zM378 568h1v4h-1zM379 566h1v3h-1zM380 565h1v4h-1zM381 569h1v5h-1zM382 568h1v8h-1zM383 560h1v8h-1zM384 560h1v9h-1zM385 555h1v5h-1zM386 559h1v6h-1zM387 565h1v4h-1zM388 569h1v5h-1zM389 570h1v6h-1zM390 567h1v3h-1zM391 566h1v3h-1zM392 569h1v2h-1zM393 569h1v2h-1zM394 571h1v3h-1zM395 574h1v2h-1zM396 574h1v1h-1zM397 572h1v2h-1zM398 569h1v3h-1zM399 568h1v3h-1zM400 571h1v3h-1zM401 570h1v5h-1zM402 568h1v11h-1zM403 564h1v4h-1zM404 566h1v4h-1zM405 570h1v4h-1zM406 573h1v3h-1zM407 563h1v10h-1zM408 555h1v8h-1zM409 561h1v11h-1zM410 572h1v5h-1zM411 571h1v4h-1zM412 568h1v7h-1zM413 567h1v12h-1zM414 560h1v8h-1zM415 553h1v7h-1zM416 556h1v8h-1zM417 564h1v7h-1zM418 567h1v5h-1zM419 572h1v4h-1zM420 571h1v3h-1zM421 567h1v4h-1zM422 566h1v4h-1zM423 569h1v4h-1zM424 566h1v3h-1zM425 566h1v3h-1zM426 569h1v5h-1zM427 568h1v8h-1zM428 557h1v11h-1zM429 560h1v3h-1zM430 550h1v10h-1zM431 541h1v9h-1zM432 545h1v7h-1zM433 552h1v7h-1zM434 559h1v5h-1zM435 558h1v6h-1zM436 564h1v5h-1zM437 562h1v6h-1zM438 561h1v3h-1zM438 567h1v5h-1zM439 560h1v9h-1zM440 553h1v7h-1zM441 556h1v6h-1zM442 562h1v5h-1zM443 566h1v3h-1zM444 564h1v4h-1zM445 568h1v3h-1zM446 565h1v4h-1zM447 563h1v3h-1zM448 557h1v6h-1zM449 551h1v6h-1zM450 557h1v9h-1zM451 566h1v3h-1zM452 563h1v3h-1zM453 561h1v5h-1zM454 557h1v4h-1zM455 560h1v5h-1zM456 565h1v2h-1zM457 562h1v3h-1zM458 560h1v2h-1zM459 556h1v4h-1zM460 554h1v2h-1zM461 552h1v4h-1zM462 546h1v6h-1zM463 543h1v7h-1zM464 550h1v7h-1zM465 551h1v5h-1zM466 555h1v5h-1zM467 552h1v3h-1zM468 551h1v3h-1zM469 548h1v9h-1zM470 542h1v10h-1zM471 533h1v9h-1zM472 541h1v11h-1zM473 545h1v12h-1zM474 541h1v4h-1zM475 541h1v6h-1zM476 534h1v7h-1zM477 534h1v8h-1zM478 530h1v4h-1zM479 532h1v4h-1zM480 536h1v3h-1zM481 535h1v2h-1zM482 535h1v2h-1zM483 532h1v5h-1zM484 528h1v4h-1zM485 527h1v3h-1zM486 529h1v5h-1zM487 525h1v4h-1zM488 527h1v3h-1zM489 530h1v4h-1zM490 525h1v4h-1zM490 531h1v6h-1zM491 525h1v8h-1zM492 528h1v6h-1zM493 523h1v9h-1zM494 515h1v8h-1zM495 519h1v7h-1zM496 523h1v6h-1zM497 529h1v5h-1zM498 527h1v4h-1zM499 524h1v3h-1zM500 522h1v4h-1zM501 526h1v4h-1zM502 526h1v5h-1zM503 531h1v4h-1zM504 528h1v5h-1zM505 523h1v5h-1zM506 528h1v5h-1zM507 527h1v5h-1zM508 522h1v5h-1zM509 523h1v8h-1zM510 516h1v7h-1zM511 514h1v8h-1zM512 522h1v7h-1zM513 518h1v15h-1zM514 513h1v5h-1zM515 517h1v10h-1zM516 523h1v3h-1zM516 527h1v5h-1zM517 525h1v5h-1zM518 519h1v6h-1zM519 517h1v6h-1zM520 512h1v17h-1zM521 506h1v6h-1zM522 510h1v7h-1zM523 515h1v7h-1zM524 522h1v7h-1zM525 519h1v6h-1zM526 517h1v2h-1zM527 517h1v4h-1zM528 515h1v4h-1zM529 511h1v4h-1zM530 514h1v6h-1zM531 520h1v4h-1zM532 515h1v7h-1zM533 510h1v7h-1zM534 517h1v11h-1zM535 528h1v6h-1zM536 526h1v5h-1zM537 523h1v7h-1zM538 518h1v6h-1zM539 524h1v2h-1zM540 524h1v3h-1zM541 521h1v4h-1zM542 525h1v3h-1zM543 526h1v3h-1zM544 521h1v5h-1zM545 516h1v5h-1zM545 524h1v2h-1zM546 519h1v4h-1zM547 523h1v4h-1zM548 527h1v3h-1zM549 522h1v6h-1zM550 522h1v6h-1zM551 519h1v7h-1zM552 510h1v9h-1zM553 502h1v22h-1zM554 524h1v7h-1zM555 527h1v2h-1zM556 525h1v2h-1zM557 522h1v3h-1zM558 525h1v4h-1zM559 525h1v5h-1zM560 521h1v4h-1zM561 523h1v3h-1zM562 525h1v4h-1zM563 520h1v5h-1zM564 523h1v3h-1zM565 514h1v5h-1zM565 521h1v3h-1zM566 509h1v5h-1zM566 518h1v3h-1zM567 510h1v8h-1zM568 518h1v8h-1zM569 520h1v4h-1zM570 516h1v4h-1zM571 511h1v5h-1zM572 505h1v10h-1zM573 498h1v7h-1zM573 514h1v5h-1zM574 501h1v5h-1zM575 506h1v6h-1zM576 505h1v11h-1zM577 494h1v11h-1zM578 499h1v6h-1zM579 505h1v3h-1zM580 506h1v3h-1zM581 503h1v4h-1zM582 507h1v8h-1zM583 514h1v5h-1zM584 511h1v4h-1zM585 515h1v4h-1zM586 513h1v4h-1zM587 510h1v3h-1zM588 512h1v2h-1zM589 505h1v7h-1zM590 498h1v14h-1zM591 512h1v4h-1zM592 509h1v4h-1zM593 503h1v6h-1zM594 507h1v4h-1zM595 503h1v7h-1zM596 510h1v7h-1zM597 507h1v8h-1zM598 498h1v9h-1zM599 494h1v10h-1zM600 504h1v12h-1zM601 516h1v4h-1zM602 520h1v4h-1zM603 524h1v3h-1zM604 523h1v5h-1zM605 528h1v2h-1zM606 522h1v6h-1zM607 514h1v8h-1zM608 510h1v9h-1zM609 519h1v9h-1zM610 520h1v9h-1zM611 517h1v6h-1zM611 524h1v3h-1zM612 525h1v3h-1zM613 522h1v4h-1zM614 526h1v2h-1zM615 524h1v4h-1zM616 528h1v7h-1zM617 531h1v8h-1zM618 524h1v7h-1zM619 529h1v4h-1zM620 530h1v3h-1zM621 528h1v2h-1zM621 532h1v2h-1zM622 531h1v2h-1zM623 529h1v2h-1zM624 528h1v3h-1zM625 530h1v3h-1zM626 529h1v1h-1zM627 528h1v2h-1zM628 530h1v3h-1zM629 531h1v3h-1zM630 534h1v5h-1zM631 534h1v7h-1zM632 528h1v6h-1zM633 532h1v4h-1zM634 528h1v4h-1zM635 532h1v11h-1zM636 543h1v10h-1zM637 553h1v2h-1zM638 545h1v11h-1zM639 542h1v7h-1zM639 550h1v4h-1zM640 550h1v2h-1zM641 548h1v2h-1zM642 546h1v2h-1zM643 545h1v3h-1zM644 548h1v3h-1zM645 547h1v3h-1zM646 550h1v5h-1zM647 555h1v5h-1zM648 551h1v6h-1zM649 546h1v5h-1zM650 544h1v6h-1zM651 550h1v6h-1zM652 548h1v5h-1zM653 549h1v8h-1zM654 547h1v2h-1zM655 546h1v3h-1zM656 543h1v3h-1zM657 545h1v2h-1zM658 545h1v2h-1zM659 543h1v2h-1zM660 543h1v3h-1zM661 546h1v6h-1zM662 541h1v5h-1zM663 545h1v5h-1zM664 550h1v2h-1zM665 544h1v6h-1zM666 540h1v4h-1zM667 542h1v2h-1zM668 544h1v5h-1zM669 549h1v3h-1zM670 547h1v5h-1zM671 552h1v4h-1zM672 548h1v5h-1zM673 546h1v5h-1zM674 539h1v7h-1zM675 537h1v8h-1zM676 545h1v7h-1zM677 550h1v4h-1zM678 554h1v4h-1zM679 551h1v7h-1zM680 558h1v5h-1zM681 558h1v5h-1zM682 563h1v3h-1zM683 561h1v3h-1zM684 559h1v3h-1zM685 562h1v2h-1zM686 564h1v3h-1zM687 567h1v2h-1zM688 566h1v2h-1zM689 563h1v3h-1zM690 561h1v4h-1zM691 562h1v7h-1zM692 553h1v9h-1zM693 549h1v10h-1zM694 559h1v9h-1zM695 560h1v5h-1zM696 557h1v6h-1zM697 561h1v5h-1zM698 566h1v5h-1zM699 565h1v3h-1zM700 563h1v2h-1zM701 563h1v3h-1zM702 560h1v5h-1zM703 565h1v4h-1zM704 560h1v5h-1zM705 557h1v3h-1zM706 558h1v3h-1zM707 561h1v3h-1zM708 559h1v2h-1zM709 560h1v6h-1zM710 555h1v7h-1zM710 564h1v2h-1zM711 562h1v2h-1zM712 562h1v3h-1zM713 565h1v2h-1zM714 563h1v3h-1zM715 565h1v4h-1zM716 559h1v6h-1zM717 556h1v7h-1zM718 563h1v9h-1zM719 560h1v6h-1zM720 559h1v6h-1zM721 565h1v7h-1zM722 566h1v7h-1zM723 559h1v7h-1zM724 565h1v7h-1zM725 559h1v6h-1zM726 564h1v5h-1zM727 559h1v5h-1zM728 562h1v5h-1zM729 567h1v3h-1zM730 570h1v2h-1zM731 569h1v2h-1zM732 567h1v2h-1zM733 569h1v2h-1zM734 569h1v1h-1zM735 567h1v2h-1zM736 569h1v2h-1zM737 567h1v2h-1zM738 565h1v2h-1zM739 563h1v2h-1zM740 563h1v2h-1zM741 564h1v6h-1zM742 559h1v5h-1zM743 562h1v5h-1zM744 567h1v4h-1zM745 569h1v4h-1zM746 566h1v6h-1zM747 567h1v8h-1zM748 563h1v4h-1zM749 566h1v3h-1zM750 569h1v2h-1zM751 571h1v2h-1zM752 570h1v3h-1zM753 565h1v5h-1zM754 570h1v4h-1zM755 565h1v5h-1zM756 560h1v5h-1zM757 557h1v7h-1zM758 564h1v7h-1zM759 562h1v5h-1zM760 566h1v3h-1zM761 565h1v1h-1zM762 564h1v3h-1zM763 567h1v3h-1zM764 565h1v5h-1zM765 570h1v3h-1zM766 563h1v8h-1zM767 556h1v16h-1zM768 572h1v5h-1zM769 567h1v5h-1zM770 562h1v5h-1zM771 558h1v6h-1zM772 552h1v6h-1zM773 554h1v5h-1zM774 558h1v5h-1zM775 555h1v3h-1zM776 555h1v3h-1zM777 552h1v3h-1zM778 552h1v4h-1zM779 549h1v3h-1zM780 552h1v1h-1zM781 551h1v3h-1zM782 549h1v5h-1zM783 554h1v4h-1zM784 558h1v2h-1zM785 555h1v6h-1zM786 550h1v5h-1zM787 543h1v7h-1zM788 540h1v7h-1zM789 547h1v8h-1zM790 554h1v6h-1zM791 546h1v8h-1zM792 543h1v3h-1zM793 542h1v3h-1zM794 543h1v4h-1zM795 540h1v8h-1zM796 548h1v5h-1zM797 544h1v5h-1zM798 541h1v3h-1zM799 538h1v3h-1zM800 538h1v3h-1zM801 541h1v3h-1zM802 543h1v1h-1zM803 539h1v6h-1zM804 533h1v6h-1zM805 533h1v7h-1zM806 530h1v3h-1zM807 532h1v4h-1zM808 534h1v5h-1zM809 534h1v3h-1zM810 530h1v4h-1zM811 533h1v3h-1zM812 531h1v3h-1zM813 529h1v2h-1zM814 531h1v2h-1zM815 529h1v2h-1zM816 527h1v2h-1zM817 527h1v3h-1zM818 524h1v3h-1zM819 527h1v3h-1zM820 527h1v4h-1zM821 518h1v9h-1zM822 510h1v8h-1zM823 514h1v8h-1zM824 522h1v4h-1zM825 521h1v6h-1zM826 519h1v4h-1zM826 526h1v4h-1zM827 525h1v4h-1zM828 522h1v3h-1zM829 522h1v4h-1zM830 526h1v3h-1zM831 522h1v4h-1zM832 526h1v4h-1zM833 523h1v4h-1zM834 521h1v2h-1zM835 519h1v4h-1zM836 515h1v4h-1zM837 517h1v4h-1zM838 515h1v2h-1zM839 514h1v5h-1zM840 519h1v6h-1zM841 525h1v4h-1zM842 525h1v4h-1zM843 522h1v6h-1zM844 528h1v2h-1zM845 528h1v3h-1zM846 531h1v4h-1zM847 526h1v5h-1zM848 524h1v7h-1zM849 531h1v8h-1zM850 539h1v7h-1zM851 536h1v4h-1zM852 540h1v3h-1zM853 535h1v5h-1zM854 532h1v3h-1zM855 532h1v3h-1zM856 534h1v3h-1zM857 529h1v5h-1zM858 525h1v8h-1zM859 533h1v4h-1zM860 534h1v5h-1zM861 530h1v4h-1zM862 530h1v3h-1zM863 530h1v6h-1zM864 528h1v2h-1zM865 525h1v3h-1zM866 521h1v4h-1zM867 520h1v5h-1zM868 525h1v4h-1zM869 517h1v8h-1zM870 513h1v11h-1zM871 515h1v15h-1zM872 509h1v17h-1zM873 526h1v4h-1zM874 527h1v2h-1zM875 524h1v3h-1zM876 521h1v3h-1zM877 521h1v4h-1zM878 525h1v4h-1zM879 522h1v7h-1zM880 515h1v7h-1zM881 513h1v14h-1zM882 509h1v4h-1zM883 510h1v3h-1zM884 513h1v4h-1zM885 510h1v3h-1zM886 512h1v6h-1zM887 509h1v14h-1zM888 505h1v4h-1zM889 508h1v4h-1zM890 512h1v4h-1zM891 516h1v2h-1zM892 501h1v6h-1zM892 511h1v8h-1zM893 495h1v16h-1zM894 505h1v10h-1zM895 515h1v2h-1zM896 517h1v1h-1zM897 509h1v4h-1zM897 515h1v4h-1zM898 505h1v4h-1zM898 512h1v3h-1zM899 507h1v5h-1zM900 506h1v10h-1zM901 502h1v4h-1zM902 503h1v1h-1zM903 504h1v3h-1zM904 501h1v9h-1zM905 497h1v4h-1zM906 500h1v4h-1zM907 502h1v5h-1zM908 496h1v16h-1zM909 488h1v8h-1zM910 493h1v9h-1zM911 502h1v5h-1zM912 497h1v7h-1zM913 490h1v7h-1zM914 487h1v8h-1zM915 495h1v9h-1zM916 492h1v6h-1zM917 489h1v4h-1zM918 486h1v3h-1zM919 484h1v5h-1zM920 480h1v18h-1zM921 498h1v12h-1zM922 485h1v15h-1zM923 480h1v5h-1zM924 473h1v8h-1zM925 465h1v8h-1zM926 463h1v4h-1zM927 459h1v9h-1zM928 468h1v5h-1zM929 467h1v3h-1zM930 465h1v2h-1zM931 467h1v2h-1zM932 457h1v10h-1zM933 447h1v10h-1zM934 452h1v14h-1zM935 466h1v9h-1zM936 471h1v2h-1zM937 464h1v7h-1zM938 452h1v12h-1zM939 450h1v14h-1zM940 441h1v11h-1zM941 452h1v10h-1zM942 458h1v2h-1zM943 448h1v10h-1zM944 440h1v8h-1zM945 439h1v4h-1zM946 427h1v12h-1zM947 413h1v14h-1zM948 406h1v7h-1zM949 408h1v7h-1zM950 397h1v25h-1zM951 377h1v20h-1zM952 368h1v9h-1zM953 376h1v9h-1zM954 385h1v2h-1zM955 385h1v11h-1zM956 396h1v11h-1zM957 395h1v10h-1zM958 385h1v18h-1zM959 368h1v17h-1zM960 374h1v11h-1zM961 385h1v12h-1zM962 397h1v7h-1zM963 390h1v12h-1zM964 378h1v12h-1zM965 378h1v8h-1zM966 386h1v7h-1zM967 370h1v11h-1zM967 383h1v7h-1zM968 359h1v11h-1zM968 377h1v6h-1zM969 361h1v4h-1zM970 365h1v10h-1zM970 382h1v7h-1zM971 375h1v9h-1zM971 389h1v7h-1zM972 371h1v19h-1zM973 353h1v18h-1zM974 350h1v7h-1zM975 357h1v16h-1zM976 373h1v9h-1zM977 374h1v7h-1zM978 368h1v13h-1zM979 380h1v4h-1zM980 366h1v14h-1zM981 356h1v23h-1zM982 379h1v7h-1zM983 369h1v12h-1zM984 361h1v14h-1zM985 375h1v11h-1zM986 366h1v15h-1zM987 355h1v32h-1zM988 387h1v10h-1zM989 388h1v6h-1zM990 382h1v6h-1zM991 375h1v7h-1zM992 376h1v13h-1zM993 368h1v8h-1zM994 371h1v11h-1zM995 382h1v10h-1zM996 377h1v10h-1zM997 372h1v19h-1zM998 391h1v8h-1zM999 384h1v13h-1zM1000 372h1v12h-1zM1001 370h1v7h-1zM1002 377h1v7h-1zM1003 371h1v8h-1zM1004 361h1v10h-1zM1005 352h1v28h-1zM1006 366h1v23h-1zM1007 360h1v6h-1zM1008 364h1v6h-1zM1009 370h1v3h-1zM1010 371h1v5h-1zM1011 376h1v7h-1zM1012 377h1v10h-1zM1013 368h1v9h-1zM1014 368h1v3h-1zM1015 371h1v3h-1zM1016 370h1v7h-1zM1017 377h1v8h-1zM1018 382h1v4h-1zM1019 375h1v7h-1zM1020 371h1v7h-1zM1021 377h1v7h-1zM1022 357h1v20h-1zM1023 339h1v18h-1zM1024 336h1v11h-1zM1025 347h1v26h-1zM1026 356h1v16h-1zM1026 373h1v31h-1zM1027 341h1v15h-1zM1027 372h1v16h-1zM1028 347h1v13h-1zM1029 360h1v18h-1zM1030 378h1v11h-1zM1031 377h1v8h-1zM1032 370h1v7h-1zM1033 366h1v8h-1zM1034 356h1v10h-1zM1035 346h1v29h-1zM1036 375h1v9h-1zM1037 372h1v7h-1zM1038 366h1v6h-1zM1039 363h1v10h-1zM1040 371h1v12h-1zM1041 366h1v5h-1zM1042 359h1v10h-1zM1043 350h1v23h-1zM1044 373h1v6h-1zM1045 369h1v6h-1zM1046 366h1v3h-1zM1047 359h1v9h-1zM1048 348h1v11h-1zM1048 361h1v8h-1zM1049 356h1v21h-1zM1050 355h1v8h-1zM1051 362h1v14h-1zM1052 376h1v7h-1zM1053 382h1v6h-1zM1054 388h1v14h-1zM1055 402h1v10h-1zM1056 403h1v11h-1zM1057 392h1v25h-1zM1058 417h1v6h-1zM1059 421h1v5h-1zM1060 420h1v14h-1zM1061 407h1v13h-1zM1062 416h1v17h-1zM1063 433h1v10h-1zM1064 430h1v11h-1zM1065 441h1v5h-1zM1066 432h1v9h-1zM1067 427h1v5h-1zM1068 423h1v4h-1zM1069 421h1v8h-1zM1070 429h1v8h-1zM1071 425h1v13h-1zM1072 437h1v6h-1zM1073 423h1v14h-1zM1074 413h1v10h-1zM1075 413h1v3h-1zM1076 405h1v8h-1zM1077 395h1v10h-1zM1078 385h1v10h-1zM1079 380h1v5h-1zM1080 375h1v6h-1zM1081 365h1v10h-1zM1082 358h1v8h-1zM1083 350h1v8h-1zM1084 353h1v8h-1zM1085 361h1v7h-1zM1086 361h1v9h-1zM1087 352h1v9h-1zM1088 346h1v6h-1zM1089 352h1v12h-1zM1090 364h1v8h-1zM1091 372h1v7h-1zM1092 378h1v14h-1zM1093 392h1v14h-1zM1094 405h1v7h-1zM1095 398h1v7h-1zM1096 405h1v16h-1zM1096 428h1v9h-1zM1097 420h1v19h-1zM1098 439h1v3h-1zM1099 442h1v5h-1zM1100 447h1v5h-1zM1101 449h1v8h-1zM1102 457h1v10h-1zM1103 463h1v8h-1zM1104 456h1v12h-1zM1105 468h1v11h-1zM1106 461h1v13h-1zM1107 452h1v9h-1zM1108 457h1v12h-1zM1109 452h1v24h-1zM1110 444h1v8h-1zM1111 452h1v12h-1zM1112 464h1v5h-1zM1113 459h1v6h-1zM1114 445h1v14h-1zM1115 433h1v12h-1zM1116 437h1v10h-1zM1117 447h1v6h-1zM1118 415h1v7h-1zM1118 434h1v17h-1zM1119 408h1v7h-1zM1119 418h1v16h-1zM1120 415h1v10h-1zM1121 425h1v7h-1zM1122 419h1v18h-1zM1123 401h1v18h-1zM1124 403h1v7h-1zM1125 410h1v8h-1zM1126 397h1v26h-1zM1127 384h1v13h-1zM1128 392h1v16h-1zM1129 408h1v15h-1zM1130 406h1v8h-1zM1131 414h1v10h-1zM1132 413h1v14h-1zM1133 427h1v15h-1zM1134 442h1v10h-1zM1135 446h1v10h-1zM1136 436h1v10h-1zM1137 443h1v12h-1zM1138 455h1v6h-1zM1139 456h1v2h-1zM1140 456h1v5h-1zM1141 461h1v5h-1zM1142 463h1v5h-1zM1143 465h1v12h-1zM1144 453h1v12h-1zM1145 462h1v15h-1zM1146 477h1v8h-1zM1147 485h1v7h-1zM1148 489h1v10h-1zM1149 483h1v7h-1zM1150 490h1v13h-1zM1151 503h1v14h-1zM1152 517h1v8h-1zM1153 512h1v9h-1zM1154 506h1v6h-1zM1155 510h1v8h-1zM1156 518h1v5h-1zM1157 515h1v11h-1zM1158 526h1v11h-1zM1159 518h1v11h-1zM1160 512h1v6h-1zM1161 510h1v7h-1zM1162 515h1v9h-1zM1163 524h1v10h-1zM1164 531h1v5h-1zM1165 521h1v10h-1zM1166 529h1v8h-1zM1167 509h1v7h-1zM1167 522h1v13h-1zM1168 503h1v6h-1zM1168 510h1v12h-1zM1169 506h1v7h-1zM1170 513h1v6h-1zM1171 510h1v7h-1zM1172 505h1v5h-1zM1173 502h1v5h-1zM1174 484h1v18h-1zM1175 473h1v11h-1zM1176 467h1v6h-1zM1177 466h1v6h-1zM1178 472h1v7h-1zM1179 471h1v14h-1zM1180 485h1v13h-1zM1181 494h1v2h-1zM1182 489h1v5h-1zM1183 486h1v5h-1zM1184 481h1v5h-1zM1185 485h1v6h-1zM1186 491h1v3h-1zM1187 492h1v4h-1zM1188 488h1v12h-1zM1189 478h1v10h-1zM1190 480h1v4h-1zM1191 484h1v3h-1zM1192 478h1v6h-1zM1193 468h1v10h-1zM1194 463h1v12h-1zM1195 475h1v13h-1zM1196 483h1v2h-1zM1197 483h1v5h-1zM1198 488h1v10h-1zM1199 498h1v5h-1zM1200 494h1v6h-1zM1201 490h1v4h-1zM1202 490h1v5h-1zM1203 495h1v4h-1zM1204 490h1v6h-1zM1205 474h1v16h-1zM1206 466h1v8h-1zM1207 471h1v8h-1zM1208 479h1v5h-1zM1209 475h1v4h-1zM1210 479h1v7h-1zM1211 485h1v4h-1zM1212 480h1v5h-1zM1213 475h1v6h-1zM1214 470h1v5h-1zM1215 473h1v9h-1zM1216 482h1v7h-1zM1217 475h1v13h-1zM1218 463h1v12h-1zM1219 467h1v7h-1zM1220 474h1v13h-1zM1221 487h1v9h-1zM1222 479h1v8h-1zM1223 478h1v3h-1zM1224 481h1v3h-1zM1225 481h1v5h-1zM1226 476h1v5h-1zM1227 475h1v6h-1zM1228 481h1v6h-1zM1229 468h1v14h-1zM1230 459h1v25h-1zM1231 484h1v7h-1zM1232 477h1v9h-1zM1233 469h1v8h-1zM1234 466h1v8h-1zM1235 474h1v9h-1zM1236 473h1v5h-1zM1237 476h1v9h-1zM1238 485h1v7h-1zM1239 472h1v15h-1zM1240 459h1v13h-1zM1241 457h1v7h-1zM1242 464h1v7h-1zM1243 469h1v7h-1zM1244 460h1v9h-1zM1245 448h1v12h-1zM1246 457h1v9h-1zM1247 456h1v6h-1zM1248 448h1v8h-1zM1249 443h1v5h-1z"/>
<rect x="73" y="546" width="1176" height="3" fill="#ff0000"/>
<rect x="73" y="519" width="1176" height="3" fill="#0000ff"/>
<g font-family="Liberation Sans, sans-serif" font-size="16" fill="#000">
<text x="296.5" y="33" textLength="724.3" lengthAdjust="spacing">Messpunkt: Delbrück-Bentfeld (33129) | Feinstaub Tagesverlauf am 2025-01-09 | Stand: 23:59:01 Uhr</text>
<text x="61" y="603" text-anchor="end">0</text>
<text x="61" y="576" text-anchor="end">2</text>
<text x="61" y="549" text-anchor="end">4</text>
<text x="61" y="522" text-anchor="end">6</text>
<text x="61" y="495" text-anchor="end">8</text>
<text x="61" y="468" text-anchor="end">10</text>
<text x="61" y="441" text-anchor="end">12</text>
<text x="61" y="414" text-anchor="end">14</text>
<text x="61" y="387" text-anchor="end">16</text>
<text x="61" y="360" text-anchor="end">18</text>
<text x="61" y="332" text-anchor="end">20</text>
<text x="61" y="305" text-anchor="end">22</text>
<text x="61" y="278" text-anchor="end">24</text>
<text x="61" y="251" text-anchor="end">26</text>
<text x="61" y="224" text-anchor="end">28</text>
<text x="61" y="197" text-anchor="end">30</text>
<text x="61" y="170" text-anchor="end">32</text>
<text x="61" y="143" text-anchor="end">34</text>
<text x="61" y="116" text-anchor="end">36</text>
<text x="61" y="89" text-anchor="end">38</text>
<text x="61" y="62" text-anchor="end">40</text>
<text transform="translate(78,673) rotate(-90)" text-anchor="start">00:00:00</text>
<text transform="translate(127,673) rotate(-90)" text-anchor="start">01:00:00</text>
<text transform="translate(176,673) rotate(-90)" text-anchor="start">02:00:00</text>
<text transform="translate(225,673) rotate(-90)" text-anchor="start">03:00:00</text>
<text transform="translate(274,673) rotate(-90)" text-anchor="start">04:00:00</text>
<text transform="translate(323,673) rotate(-90)" text-anchor="start">05:00:00</text>
<text transform="translate(372,673) rotate(-90)" text-anchor="start">06:00:00</text>
<text transform="translate(421,673) rotate(-90)" text-anchor="start">07:00:00</text>
<text transform="translate(470,673) rotate(-90)" text-anchor="start">08:00:00</text>
<text transform="translate(519,673) rotate(-90)" text-anchor="start">09:00:00</text>
<text transform="translate(568,673) rotate(-90)" text-anchor="start">10:00:00</text>
<text transform="translate(617,673) rotate(-90)" text-anchor="start">11:00:00</text>
<text transform="translate(666,673) rotate(-90)" text-anchor="start">12:00:00</text>
<text transform="translate(714,673) rotate(-90)" text-anchor="start">13:00:00</text>
<text transform="translate(763,673) rotate(-90)" text-anchor="start">14:00:00</text>
<text transform="translate(812,673) rotate(-90)" text-anchor="start">15:00:00</text>
<text transform="translate(861,673) rotate(-90)" text-anchor="start">16:00:00</text>
<text transform="translate(910,673) rotate(-90)" text-anchor="start">17:00:00</text>
<text transform="translate(959,673) rotate(-90)" text-anchor="start">18:00:00</text>
<text transform="translate(1008,673) rotate(-90)" text-anchor="start">19:00:00</text>
<text transform="translate(1057,673) rotate(-90)" text-anchor="start">20:00:00</text>
<text transform="translate(1106,673) rotate(-90)" text-anchor="start">21:00:00</text>
<text transform="translate(1155,673) rotate(-90)" text-anchor="start">22:00:00</text>
<text transform="translate(1204,673) rotate(-90)" text-anchor="start">23:00:00</text>
<text transform="translate(1253,673) rotate(-90)" text-anchor="start">00:00:00</text>
<text transform="translate(19,442.9) rotate(-90)" textLength="229.6" lengthAdjust="spacing">Particulate Matter (PM) in µg/m³</text>
<text x="659.5" y="711" text-anchor="middle">Uhrzeit</text>
<text x="180.3" y="79" text-anchor="end">PM 2.5</text>
<text x="181.2" y="98" text-anchor="end">PM 10</text>
<text x="180.6" y="117" text-anchor="end">PM 2.5 Ø</text>
<text x="180.2" y="136" text-anchor="end">PM 10 Ø</text>
</g>
<rect x="194" y="74" width="48" height="1" fill="#ff0000"/>
<rect x="194" y="93" width="48" height="1" fill="#0000ff"/>
<rect x="193" y="111" width="50" height="3" fill="#ff0000"/>
<rect x="193" y="130" width="50" height="3" fill="#0000ff"/>
<g font-family="Liberation Sans, sans-serif" font-size="16" fill="#ff0000">
<text x="759" y="84">PM 2.5 Max = 11.9 µg/m³</text>
<text x="759" y="111">PM 2.5 Min = 0.2 µg/m³</text>
<text x="759" y="138">PM 2.5 Ø = 3.76028 µg/m³</text>
</g>
<g font-family="Liberation Sans, sans-serif" font-size="16" fill="#0000ff">
<text x="1028.7" y="84" textLength="176.9" lengthAdjust="spacing">PM 10 Max = 19.4 µg/m³</text>
<text x="1028.7" y="111" textLength="164.3" lengthAdjust="spacing">PM 10 Min = 0.2 µg/m³</text>
<text x="1028.7" y="138" textLength="186.0" lengthAdjust="spacing">PM 10 Ø = 5.74326 µg/m³</text>
</g>
</svg>
</body></html>
